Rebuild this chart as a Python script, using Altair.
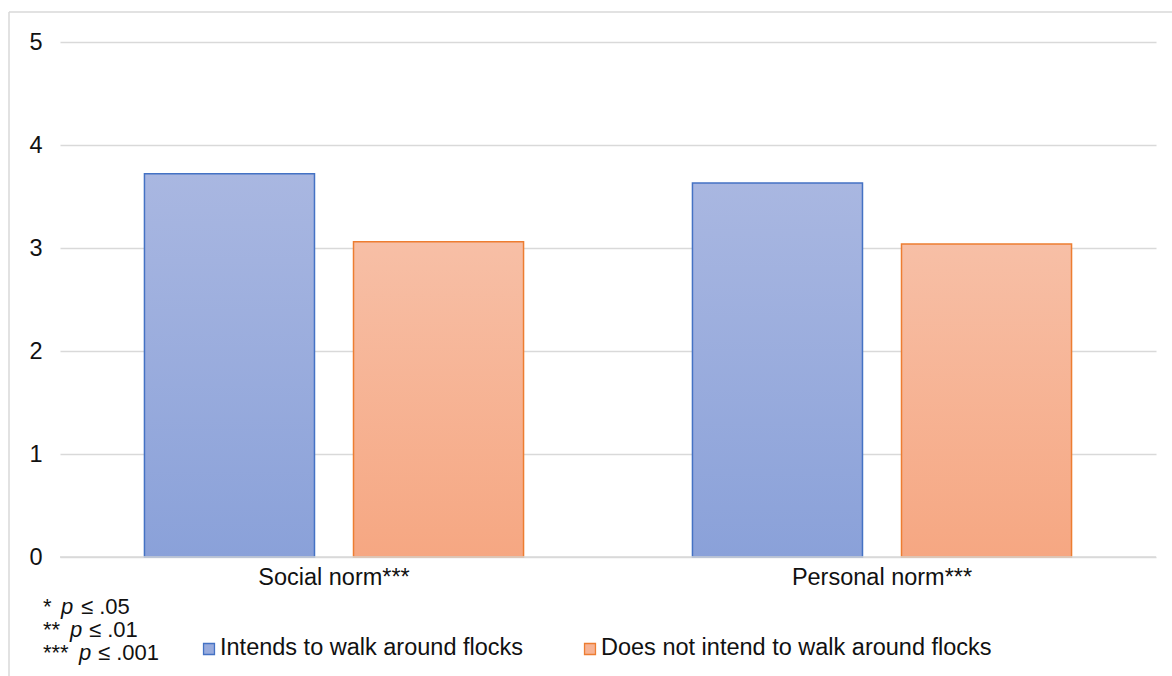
import altair as alt
import pandas as pd

# Mean scores by norm type and walking intention
categories = ["Social norm***", "Personal norm***"]
series = ["Intends to walk around flocks", "Does not intend to walk around flocks"]
intends_values = [3.72, 3.63]
not_intends_values = [3.06, 3.04]
y_ticks = [0, 1, 2, 3, 4, 5]

rows = []
for i, cat in enumerate(categories):
    rows.append({"category": cat, "group": series[0], "value": intends_values[i]})
    rows.append({"category": cat, "group": series[1], "value": not_intends_values[i]})
df = pd.DataFrame(rows)

FONT = "Liberation Sans"
FS = 23.5
FOOT_FS = 22
INK = "#111111"
W, H = 1096, 515

blue_grad = alt.Gradient(
    gradient="linear",
    stops=[alt.GradientStop(color="#A9B7E1", offset=0), alt.GradientStop(color="#8AA1D9", offset=1)],
    x1=0, x2=0, y1=0, y2=1,
)
orange_grad = alt.Gradient(
    gradient="linear",
    stops=[alt.GradientStop(color="#F7BFA6", offset=0), alt.GradientStop(color="#F6A782", offset=1)],
    x1=0, x2=0, y1=0, y2=1,
)

x_enc = alt.X(
    "category:N",
    sort=categories,
    scale=alt.Scale(paddingInner=0, paddingOuter=0),
    axis=alt.Axis(
        title=None, labelAngle=0, ticks=False, domain=False, grid=False, labelLimit=0,
        labelFont=FONT, labelFontSize=FS, labelColor=INK, labelPadding=8,
    ),
)
xoff_enc = alt.XOffset(
    "group:N",
    sort=series,
    scale=alt.Scale(domain=series, paddingInner=0.1866, paddingOuter=0.404),
)
y_enc = alt.Y(
    "value:Q",
    scale=alt.Scale(domain=[0, 5], nice=False, zero=True),
    axis=alt.Axis(
        title=None, values=y_ticks, format="d", ticks=False, domain=False,
        grid=True, gridColor="#D9D9D9", gridWidth=1.5,
        labelFont=FONT, labelFontSize=FS, labelColor=INK, labelPadding=18,
    ),
)

base = alt.Chart(df)

bars_blue = base.transform_filter(alt.datum.group == series[0]).mark_bar(
    fill=blue_grad, stroke="#4472C4", strokeWidth=1.5
).encode(x=x_enc, xOffset=xoff_enc, y=y_enc)

bars_orange = base.transform_filter(alt.datum.group == series[1]).mark_bar(
    fill=orange_grad, stroke="#ED7D31", strokeWidth=1.5
).encode(x=x_enc, xOffset=xoff_enc, y=y_enc)

# Baseline at zero
baseline = alt.Chart(pd.DataFrame({"v": [0]})).mark_rule(color="#D9D9D9", strokeWidth=1.5).encode(
    y=alt.Y("v:Q", scale=alt.Scale(domain=[0, 5])), x=alt.value(0), x2=alt.value(W)
)

# Outer frame of the chart area
frame_top = alt.Chart(pd.DataFrame({"a": [0]})).mark_rule(color="#D9D9D9", strokeWidth=1.5).encode(
    x=alt.value(-51), x2=alt.value(1200), y=alt.value(-30)
)
frame_left = alt.Chart(pd.DataFrame({"a": [0]})).mark_rule(color="#D9D9D9", strokeWidth=1.5).encode(
    x=alt.value(-51), y=alt.value(-30), y2=alt.value(700)
)

# Legend drawn as square swatches plus labels
legend_df = pd.DataFrame({
    "label": series,
    "sx": [149, 530],
    "tx": [160, 541],
    "fill": ["#98ABDD", "#F7B394"],
    "stroke": ["#4472C4", "#ED7D31"],
})
legend_sq = alt.Chart(legend_df).mark_square(size=120, strokeWidth=1.3, opacity=1).encode(
    x=alt.X("sx:Q", scale=None), y=alt.value(H + 92),
    fill=alt.Fill("fill:N", scale=None), stroke=alt.Stroke("stroke:N", scale=None),
)
legend_txt = alt.Chart(legend_df).mark_text(
    align="left", baseline="alphabetic", font=FONT, fontSize=FS, color=INK
).encode(x=alt.X("tx:Q", scale=None), y=alt.value(H + 98), text="label:N")

# Significance footnote
foot_df = pd.DataFrame({
    "stars": ["*", "**", "***"],
    "rest": ["≤ .05", "≤ .01", "≤ .001"],
    "sx": [-17, -17, -17],
    "px": [1, 10, 19],
    "rx": [21, 29, 38],
    "yy": [H + 57, H + 80, H + 103],
})
foot_stars = alt.Chart(foot_df).mark_text(
    align="left", baseline="alphabetic", font=FONT, fontSize=FOOT_FS, color=INK
).encode(x=alt.X("sx:Q", scale=None), y=alt.Y("yy:Q", scale=None), text="stars:N")
foot_p = alt.Chart(foot_df).mark_text(
    align="left", baseline="alphabetic", font=FONT, fontSize=FOOT_FS, fontStyle="italic", color=INK
).encode(x=alt.X("px:Q", scale=None), y=alt.Y("yy:Q", scale=None), text=alt.value("p"))
foot_rest = alt.Chart(foot_df).mark_text(
    align="left", baseline="alphabetic", font=FONT, fontSize=FOOT_FS, color=INK
).encode(x=alt.X("rx:Q", scale=None), y=alt.Y("yy:Q", scale=None), text="rest:N")

chart = alt.layer(
    frame_top, frame_left, bars_blue, bars_orange, baseline,
    legend_sq, legend_txt, foot_stars, foot_p, foot_rest,
).resolve_scale(x="shared").properties(
    width=W, height=H,
    autosize=alt.AutoSizeParams(type="none"),
    padding={"left": 60, "top": 42, "right": 16, "bottom": 119},
    background="white",
).configure_view(stroke=None)

chart.save("out.html", embed_options={"renderer": "svg", "actions": False})
